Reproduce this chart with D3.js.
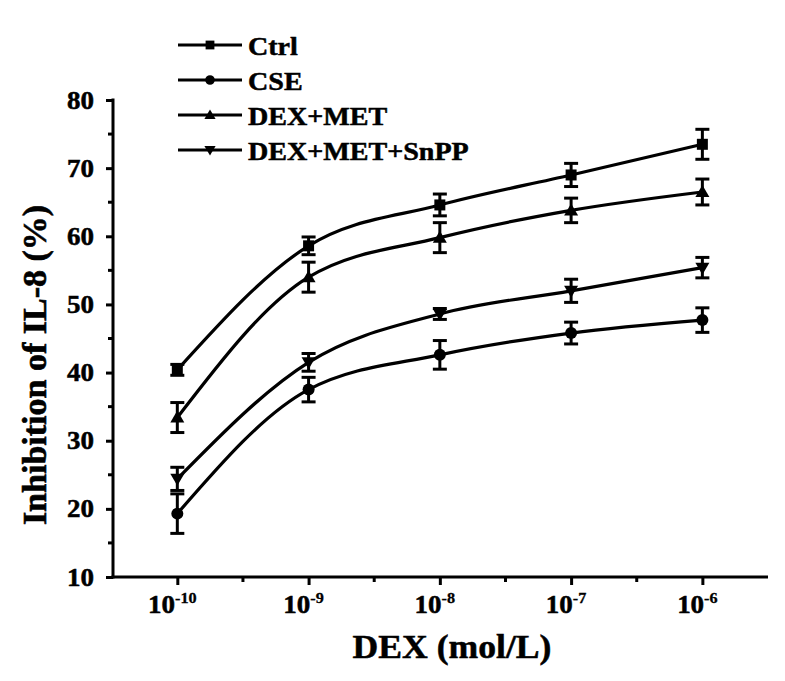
<!DOCTYPE html>
<html><head><meta charset="utf-8">
<script src="https://cdn.jsdelivr.net/npm/d3@7"></script>
<style>body{margin:0;background:#fff}svg{display:block}</style>
</head><body>
<svg id="c" width="785" height="681"></svg>
<script>
const exponents = [-10, -9, -8, -7, -6];
const seriesNames = ["Ctrl", "CSE", "DEX+MET", "DEX+MET+SnPP"];
const ctrlMean = [40.4, 58.6, 64.6, 69.0, 73.5];
const ctrlErr  = [0.8, 1.3, 1.6, 1.7, 2.2];
const cseMean  = [19.3, 37.5, 42.6, 45.8, 47.7];
const cseErr   = [2.9, 1.8, 2.1, 1.6, 1.8];
const dexMean  = [33.4, 54.0, 59.8, 63.8, 66.5];
const dexErr   = [2.2, 2.2, 2.2, 1.8, 1.9];
const snppMean = [24.4, 41.5, 48.6, 52.0, 55.4];
const snppErr  = [1.7, 1.3, 0.8, 1.7, 1.5];
const yTicks = [10, 20, 30, 40, 50, 60, 70, 80];
const symbols = ["square", "circle", "up", "down"];

const series = [
  {name: seriesNames[0], mean: ctrlMean, err: ctrlErr, sym: symbols[0]},
  {name: seriesNames[1], mean: cseMean, err: cseErr, sym: symbols[1]},
  {name: seriesNames[2], mean: dexMean, err: dexErr, sym: symbols[2]},
  {name: seriesNames[3], mean: snppMean, err: snppErr, sym: symbols[3]}
];

const svg = d3.select("#c");
const font = "'Liberation Serif','Times New Roman',serif";
const SX = 1.08;
const x = d3.scaleLinear().domain([-10.49, -5.5]).range([113, 768]);
const y = d3.scaleLinear().domain([10, 80]).range([577, 100]);

function symPath(sym, cx, cy, s) {
  s = s || 1;
  const g = d3.path();
  if (sym === "square") { g.rect(cx-5.5*s, cy-5.5*s, 11*s, 11*s); }
  else if (sym === "circle") { g.arc(cx, cy, 6*s, 0, 2*Math.PI); }
  else if (sym === "up") { g.moveTo(cx, cy-7*s); g.lineTo(cx+7*s, cy+5*s); g.lineTo(cx-7*s, cy+5*s); g.closePath(); }
  else { g.moveTo(cx, cy+7*s); g.lineTo(cx+7*s, cy-5*s); g.lineTo(cx-7*s, cy-5*s); g.closePath(); }
  return g.toString();
}
function txt(parent, tx, ty, size, anchor) {
  return parent.append("g").attr("transform", `translate(${tx},${ty}) scale(${SX},1)`)
    .append("text").attr("text-anchor", anchor || "start")
    .attr("font-family", font).attr("font-weight", "bold").attr("font-size", size)
    .attr("fill", "#000").attr("stroke", "#000").attr("stroke-width", 0.5);
}

// y axis
const yAxis = d3.axisLeft(y).tickValues(yTicks).tickSize(7).tickFormat("");
const gy = svg.append("g").attr("transform", "translate(113,0)").call(yAxis);
gy.selectAll(".tick line").attr("stroke-width", 3);
gy.select(".domain").attr("stroke-width", 3).attr("d", "M0,578.5V" + (y(80) - 1.5));
yTicks.forEach(v => txt(svg, 94, y(v) + 8.5, 25, "end").text(d3.format("d")(v)));
const yMinor = d3.range(15, 80, 10);
svg.append("g").selectAll("line").data(yMinor).join("line")
  .attr("x1", 108).attr("x2", 113).attr("y1", d => y(d)).attr("y2", d => y(d))
  .attr("stroke", "#000").attr("stroke-width", 3);

// x axis
const xAxis = d3.axisBottom(x).tickValues(exponents).tickSize(8).tickFormat("");
const gx = svg.append("g").attr("transform", "translate(0,577)").call(xAxis);
gx.selectAll(".tick line").attr("stroke-width", 3);
gx.select(".domain").attr("stroke-width", 3).attr("d", "M111.5,0H768");
svg.append("g").selectAll("line").data(exponents.slice(0, 4).map(e => e + 0.5)).join("line")
  .attr("x1", d => x(d)).attr("x2", d => x(d)).attr("y1", 577).attr("y2", 582)
  .attr("stroke", "#000").attr("stroke-width", 3);
exponents.forEach(e => {
  const t = txt(svg, x(e) - 5, 613, 25, "middle");
  t.append("tspan").text("10");
  t.append("tspan").attr("dy", -10).attr("font-size", 15).attr("stroke-width", 0.3).text(e);
});

// titles
txt(svg, 452, 658, 33, "middle").text("DEX (mol/L)");
svg.append("text").attr("transform", "translate(46,365) rotate(-90)").attr("text-anchor", "middle")
  .attr("font-family", font).attr("font-weight", "bold").attr("font-size", 34)
  .attr("stroke", "#000").attr("stroke-width", 0.6).text("Inhibition of IL-8 (%)");

// lines
const line = d3.line().x((d, i) => x(exponents[i])).y(d => y(d)).curve(d3.curveMonotoneX);
const sg = svg.append("g").selectAll("g").data(series).join("g");
sg.append("path").attr("d", d => line(d.mean)).attr("fill", "none").attr("stroke", "#000").attr("stroke-width", 3.2);
sg.each(function(s) {
  const g = d3.select(this);
  s.mean.forEach((m, i) => {
    const cx = x(exponents[i]);
    const y1 = y(m + s.err[i]), y2 = y(m - s.err[i]);
    g.append("line").attr("x1", cx).attr("x2", cx).attr("y1", y1).attr("y2", y2).attr("stroke", "#000").attr("stroke-width", 3);
    [y1, y2].forEach(yy => g.append("line").attr("x1", cx-7).attr("x2", cx+7).attr("y1", yy).attr("y2", yy).attr("stroke", "#000").attr("stroke-width", 3));
    g.append("path").attr("d", symPath(s.sym, cx, y(m))).attr("fill", "#000");
  });
});

// legend
series.forEach((s, i) => {
  const ly = 45 + i * 35;
  svg.append("line").attr("x1", 178).attr("x2", 242).attr("y1", ly).attr("y2", ly).attr("stroke", "#000").attr("stroke-width", 3.2);
  svg.append("path").attr("d", symPath(s.sym, 210, ly, 0.8)).attr("fill", "#000");
  txt(svg, 248, ly + 10, 26, "start").text(s.name);
});
</script>
</body></html>
